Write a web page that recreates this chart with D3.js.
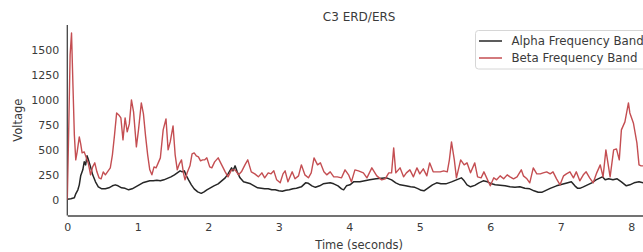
<!DOCTYPE html>
<html><head><meta charset="utf-8">
<script src="https://cdn.jsdelivr.net/npm/d3@7"></script>
<style>body{margin:0;background:#fff;} svg{display:block;font-family:"DejaVu Sans",sans-serif;}</style>
</head><body><svg id="c" width="643" height="252"></svg>
<script>
const title = "C3 ERD/ERS";
const xLabel = "Time (seconds)";
const yLabel = "Voltage";
const seriesNames = ["Alpha Frequency Band", "Beta Frequency Band"];
const xTicks = [0,1,2,3,4,5,6,7,8];
const yTicks = [0,250,500,750,1000,1250,1500];

const alphaTime = [0.00,0.05,0.10,0.12,0.15,0.17,0.19,0.22,0.24,0.26,0.28,0.30,0.33,0.36,0.40,0.44,0.49,0.54,0.59,0.64,0.68,0.72,0.77,0.82,0.87,0.92,0.97,1.02,1.07,1.12,1.17,1.22,1.27,1.32,1.37,1.42,1.47,1.52,1.56,1.60,1.63,1.66,1.69,1.72,1.76,1.80,1.85,1.90,1.94,1.98,2.03,2.08,2.14,2.19,2.24,2.28,2.33,2.35,2.38,2.41,2.45,2.50,2.55,2.60,2.65,2.70,2.75,2.80,2.85,2.90,2.95,3.00,3.05,3.10,3.15,3.20,3.25,3.32,3.38,3.42,3.47,3.52,3.58,3.63,3.68,3.73,3.78,3.84,3.89,3.92,3.96,4.01,4.06,4.15,4.22,4.29,4.38,4.46,4.53,4.60,4.66,4.72,4.80,4.87,4.93,4.98,5.02,5.06,5.12,5.18,5.24,5.30,5.37,5.45,5.52,5.59,5.63,5.67,5.72,5.78,5.84,5.90,5.96,6.02,6.07,6.14,6.21,6.28,6.35,6.42,6.49,6.56,6.62,6.68,6.73,6.79,6.85,6.94,7.02,7.10,7.15,7.20,7.24,7.27,7.32,7.38,7.44,7.50,7.53,7.59,7.63,7.68,7.74,7.80,7.86,7.93,7.98,8.04,8.11,8.17,8.28];
const alphaValues = [5,10,20,60,100,150,240,300,380,350,440,400,330,250,180,130,110,110,120,140,150,140,120,115,100,110,130,150,170,180,190,190,195,190,200,215,230,250,270,290,280,290,240,200,150,110,80,65,80,100,120,140,160,190,220,260,320,290,340,280,220,180,170,160,140,120,115,110,110,100,100,90,85,95,100,110,115,130,170,165,140,125,140,160,165,170,160,140,110,100,140,150,180,180,190,200,210,215,220,200,170,150,140,130,125,110,95,90,120,150,170,160,160,180,200,220,190,150,130,145,170,190,180,160,150,145,140,130,125,130,115,110,90,75,75,95,115,140,155,170,180,140,115,115,130,150,170,200,210,230,200,210,200,210,180,140,150,170,180,170,160];

const betaTime = [0.00,0.02,0.04,0.06,0.08,0.10,0.12,0.14,0.17,0.19,0.21,0.24,0.27,0.30,0.33,0.36,0.39,0.42,0.45,0.48,0.51,0.54,0.58,0.61,0.64,0.67,0.70,0.73,0.76,0.79,0.82,0.85,0.88,0.91,0.94,0.98,1.01,1.05,1.08,1.11,1.14,1.17,1.20,1.23,1.26,1.29,1.32,1.36,1.40,1.43,1.46,1.50,1.53,1.56,1.59,1.62,1.65,1.67,1.70,1.74,1.77,1.80,1.83,1.86,1.89,1.92,1.95,1.98,2.02,2.05,2.09,2.14,2.19,2.24,2.28,2.33,2.38,2.43,2.47,2.52,2.56,2.61,2.66,2.71,2.76,2.80,2.85,2.89,2.93,2.97,3.02,3.06,3.09,3.13,3.19,3.23,3.28,3.32,3.37,3.42,3.46,3.50,3.55,3.59,3.64,3.68,3.73,3.78,3.83,3.89,3.94,3.99,4.03,4.08,4.13,4.20,4.25,4.32,4.39,4.46,4.51,4.56,4.60,4.63,4.66,4.72,4.77,4.81,4.86,4.91,4.96,5.00,5.05,5.10,5.14,5.19,5.24,5.29,5.34,5.39,5.42,5.45,5.49,5.52,5.58,5.63,5.67,5.72,5.78,5.82,5.87,5.91,6.00,6.05,6.09,6.14,6.19,6.24,6.28,6.33,6.38,6.44,6.47,6.52,6.56,6.61,6.66,6.71,6.75,6.80,6.85,6.89,6.94,6.99,7.04,7.08,7.13,7.18,7.22,7.27,7.32,7.36,7.41,7.46,7.51,7.56,7.60,7.64,7.70,7.75,7.79,7.83,7.86,7.91,7.96,7.98,8.03,8.08,8.11,8.14,8.20,8.28];
const betaValues = [0,700,1450,1670,1150,650,400,480,630,560,470,480,420,360,250,330,370,280,220,210,280,250,290,320,450,650,870,850,820,600,820,680,760,1000,880,530,700,970,860,640,450,300,250,330,320,370,420,700,810,500,580,740,450,300,360,400,260,200,270,340,460,470,440,430,390,400,400,420,330,320,380,420,350,280,230,300,300,250,280,350,400,280,260,230,270,220,270,260,290,200,170,260,290,180,280,210,240,350,250,220,270,420,350,370,280,250,280,230,230,220,300,250,180,300,290,270,220,320,240,200,210,270,270,520,270,320,230,270,300,230,320,260,310,240,370,280,280,280,290,280,400,580,400,220,400,350,370,270,370,230,220,280,140,220,200,240,210,250,230,210,230,300,240,210,170,320,260,260,270,280,260,280,210,150,240,260,280,220,280,190,250,280,220,170,270,350,230,500,230,500,510,400,700,780,970,870,770,570,350,340,340,330];

const colors = ["#262626", "#c44e52"];

const svg = d3.select("#c");
const x = d3.scaleLinear().domain([0, 8.28]).range([67.3, 651]);
const y = d3.scaleLinear().domain([-157, 1750]).range([215.5, 25]);

svg.append("defs").append("clipPath").attr("id","clip")
  .append("rect").attr("x",67.3).attr("y",25).attr("width",651-67.3).attr("height",190.5);

const textColor = "#3a3a3a";

svg.append("text").attr("x", (67.3+651)/2).attr("y", 21).attr("text-anchor","middle")
  .attr("font-size", 12).attr("fill", textColor).text(title);

const xAxis = d3.axisBottom(x).tickValues(xTicks).tickSize(0).tickPadding(8).tickFormat(d3.format("d"));
const yAxis = d3.axisLeft(y).tickValues(yTicks).tickSize(0).tickPadding(8).tickFormat(d3.format("d"));
const gx = svg.append("g").attr("transform","translate(0,215.5)").call(xAxis);
const gy = svg.append("g").attr("transform","translate(67.3,0)").call(yAxis);
[gx, gy].forEach(g => {
  g.select(".domain").attr("stroke","#444").attr("stroke-width",1.3);
  g.selectAll("text").attr("font-size",11).attr("fill",textColor).attr("font-family","DejaVu Sans, sans-serif");
});
gy.select(".domain").attr("d", `M0,${y(1750)}V${y(-157)}`);

svg.append("text").attr("x",(67.3+651)/2).attr("y",249).attr("text-anchor","middle")
  .attr("font-size",11.5).attr("fill",textColor).text(xLabel);
svg.append("text").attr("transform",`translate(22,${(25+215.5)/2}) rotate(-90)`).attr("text-anchor","middle")
  .attr("font-size",11.5).attr("fill",textColor).text(yLabel);

const line = d3.line().x(d => x(d[0])).y(d => y(d[1]));
const plot = svg.append("g").attr("clip-path","url(#clip)");
plot.append("path").datum(d3.zip(alphaTime, alphaValues)).attr("d", line)
  .attr("fill","none").attr("stroke",colors[0]).attr("stroke-width",1.5).attr("stroke-linejoin","round");
plot.append("path").datum(d3.zip(betaTime, betaValues)).attr("d", line)
  .attr("fill","none").attr("stroke",colors[1]).attr("stroke-width",1.4).attr("stroke-linejoin","round");

const lg = svg.append("g");
lg.append("rect").attr("x",475.5).attr("y",30.5).attr("width",180).attr("height",38.5).attr("rx",3)
  .attr("fill","#fff").attr("fill-opacity",0.85).attr("stroke","#d6d6d6").attr("stroke-width",1);
seriesNames.forEach((n,i) => {
  const yy = 41 + i*17;
  lg.append("line").attr("x1",479).attr("x2",502).attr("y1",yy).attr("y2",yy)
    .attr("stroke",colors[i]).attr("stroke-width",1.5);
  lg.append("text").attr("x",511.5).attr("y",yy+4).attr("font-size",11.8).attr("fill",textColor).text(n);
});
</script></body></html>
